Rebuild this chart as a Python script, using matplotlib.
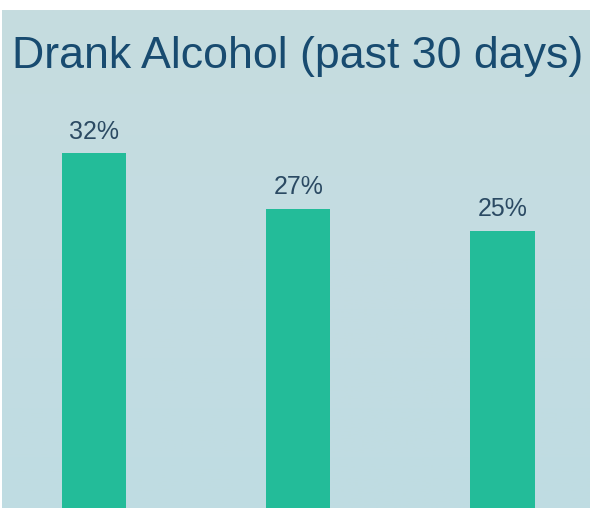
import numpy as np
import matplotlib
matplotlib.use("Agg")
import matplotlib.pyplot as plt
from matplotlib.colors import LinearSegmentedColormap

categories = ["Group A", "Group B", "Group C"]
values = [32, 27, 25]
labels = ["32%", "27%", "25%"]
title = "Drank Alcohol (past 30 days)"

W, H = 590, 511
fig = plt.figure(figsize=(W / 100, H / 100), dpi=100, facecolor="white")

# plot area in pixels: left 2, right 590, top 10, bottom 508
ax = fig.add_axes([2 / W, 3 / H, 588 / W, 498 / H])
ax.set_xlim(-0.453, 2.429)
ax.set_ylim(0, 44.9)
ax.axis("off")

# soft vertical background gradient
grad = np.linspace(0, 1, 256).reshape(-1, 1)
cmap = LinearSegmentedColormap.from_list("bg", ["#bfdce2", "#c4dde2", "#c6dcdf"])
ax.imshow(grad, extent=(-0.453, 2.429, 0, 44.9), aspect="auto",
          cmap=cmap, origin="lower", zorder=0)

x = np.arange(len(categories))
ax.bar(x, values, width=0.314, color="#23bc99", zorder=2)

for xi, v, lab in zip(x, values, labels):
    ax.text(xi, v + 0.85, lab, ha="center", va="bottom",
            fontsize=18, color="#2b4a63", family="Liberation Sans", zorder=3)

fig.text(12 / W, 1 - 68 / H, title, ha="left", va="baseline",
         fontsize=32.2, color="#184b70", family="Liberation Sans")

fig.savefig("out.png", dpi=100, facecolor="white")
